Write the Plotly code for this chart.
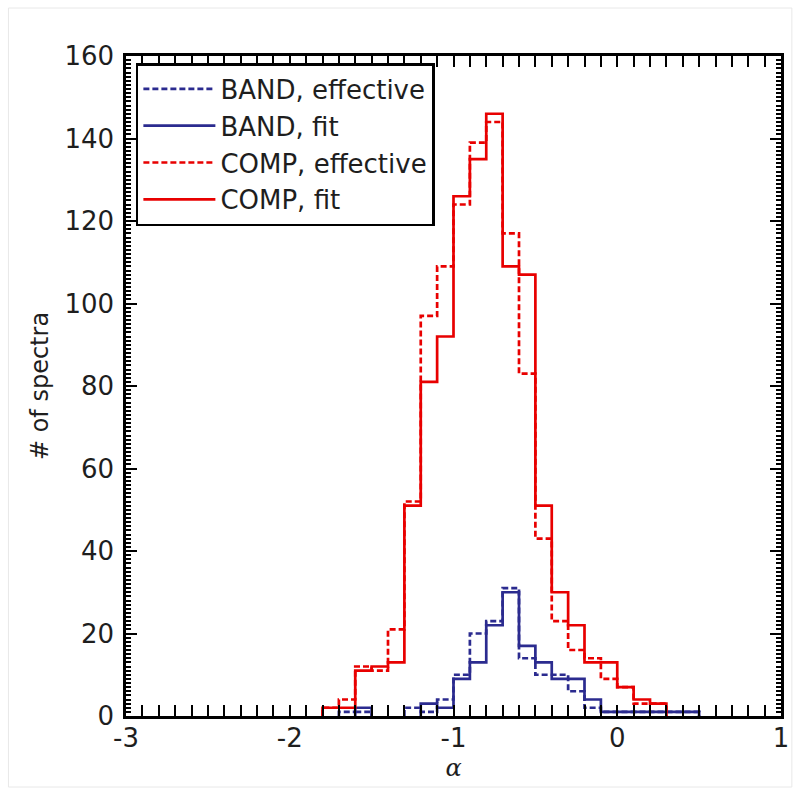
import plotly.graph_objects as go

# ---- data (counts per 0.1-wide alpha bin; bins given by left edge) ----
bin_width = 0.1

comp_bins = [-1.8, -1.7, -1.6, -1.5, -1.4, -1.3, -1.2, -1.1, -1.0, -0.9, -0.8,
             -0.7, -0.6, -0.5, -0.4, -0.3, -0.2, -0.1, 0.0, 0.1, 0.2]
comp_fit = [2, 2, 11, 12, 13, 51, 81, 92, 126, 135, 146,
            109, 107, 51, 30, 22, 13, 13, 7, 4, 3]
comp_eff = [2, 4, 12, 11, 21, 52, 97, 109, 124, 139, 144,
            117, 83, 43, 23, 16, 14, 9, 7, 3, 3]

band_bins = [-1.7, -1.6, -1.5, -1.4, -1.3, -1.2, -1.1, -1.0, -0.9, -0.8, -0.7,
             -0.6, -0.5, -0.4, -0.3, -0.2, -0.1, 0.0, 0.1, 0.2, 0.3, 0.4]
band_fit = [0, 2, 0, 0, 0, 3, 2, 9, 13, 22, 30,
            17, 13, 9, 9, 4, 1, 1, 1, 1, 1, 1]
band_eff = [1, 1, 0, 0, 2, 1, 4, 10, 20, 23, 31,
            14, 10, 10, 6, 2, 1, 1, 1, 1, 1, 1]

x_ticks = [-3, -2, -1, 0, 1]
y_ticks = [0, 20, 40, 60, 80, 100, 120, 140, 160]
y_minor_ticks = list(range(0, 161))

RED = "#e80000"
BLUE = "#2b2b8f"
FONT = "DejaVu Sans"
TXT = "#1e1e1e"


def step(bins, counts):
    """Step outline of a histogram; runs of empty bins leave a gap."""
    xs, ys = [], []
    open_run = False
    for b, c in zip(bins, counts):
        if c > 0:
            if not open_run:
                xs.append(b)
                ys.append(0)
                open_run = True
            xs.append(b)
            ys.append(c)
        elif open_run:
            xs += [b, None]
            ys += [0, None]
            open_run = False
    if open_run:
        xs.append(round(bins[-1] + bin_width, 3))
        ys.append(0)
    return xs, ys


series = [
    ("BAND, effective", band_bins, band_eff, BLUE, "6px,3px"),
    ("BAND, fit", band_bins, band_fit, BLUE, "solid"),
    ("COMP, effective", comp_bins, comp_eff, RED, "6px,3px"),
    ("COMP, fit", comp_bins, comp_fit, RED, "solid"),
]

fig = go.Figure()
for name, bins, counts, color, dash in series:
    xs, ys = step(bins, counts)
    fig.add_trace(go.Scatter(
        x=xs, y=ys, mode="lines", name=name, connectgaps=False,
        line=dict(color=color, width=2.7, dash=dash, shape="hv"),
    ))

# invisible traces carrying the extra tick-only axes (top / right / left minor)
fig.add_trace(go.Scatter(x=[-3], y=[0], xaxis="x2", yaxis="y2", mode="markers",
                         marker=dict(opacity=0), showlegend=False, hoverinfo="skip"))
fig.add_trace(go.Scatter(x=[-3], y=[0], xaxis="x", yaxis="y3", mode="markers",
                         marker=dict(opacity=0), showlegend=False, hoverinfo="skip"))

tick_common = dict(ticks="inside", tickcolor="black", tickwidth=2, ticklen=11,
                   showgrid=False, zeroline=False)
x_minor = dict(ticks="inside", dtick=0.1, tick0=-3, ticklen=6, tickwidth=2,
               tickcolor="black", showgrid=False)
y_ladder = dict(tickmode="array", tickvals=y_minor_ticks, showticklabels=False,
                ticks="inside", ticklen=5, tickwidth=1.5, tickcolor="black",
                showgrid=False, zeroline=False, showline=False, range=[0, 160])

fig.update_layout(
    xaxis=dict(
        range=[-3, 1], tickmode="array", tickvals=x_ticks,
        ticktext=[str(v) for v in x_ticks],
        showline=True, linecolor="black", linewidth=2.5, mirror="allticks",
        minor=x_minor, ticklabelstandoff=-3,
        tickfont=dict(family=FONT, size=26, color=TXT),
        title=dict(text="<i>α</i>", font=dict(family="DejaVu Serif", size=24, color=TXT), standoff=8),
        **tick_common,
    ),
    yaxis=dict(
        range=[0, 160], tickmode="array", tickvals=y_ticks,
        ticktext=[str(v) for v in y_ticks],
        showline=True, linecolor="black", linewidth=2.5, mirror="allticks",
        ticklabelstandoff=4,
        tickfont=dict(family=FONT, size=26, color=TXT),
        title=dict(text="# of spectra", font=dict(family=FONT, size=24, color=TXT), standoff=10),
        **tick_common,
    ),
    xaxis2=dict(
        overlaying="x", side="top", anchor="y", range=[-3, 1],
        tickmode="array", tickvals=x_ticks, showticklabels=False,
        showline=False, minor=x_minor, **tick_common,
    ),
    yaxis2=dict(overlaying="y", side="right", anchor="x", **y_ladder),
    yaxis3=dict(overlaying="y", side="left", anchor="x", **y_ladder),
)

fig.add_shape(type="rect", xref="paper", yref="paper",
              x0=(7 - 126) / 663, x1=(800 - 126) / 663,
              y0=(716 - 787) / 660, y1=(716 - 8) / 660,
              line=dict(color="#e8e8e8", width=1), layer="below")

fig.update_layout(
    width=801, height=805,
    margin=dict(l=126, r=12, t=56, b=89),
    paper_bgcolor="white", plot_bgcolor="white",
    showlegend=True,
    legend=dict(
        x=(136 - 126) / 663, y=(716 - 63) / 660, xanchor="left", yanchor="top",
        bordercolor="black", borderwidth=2.5, bgcolor="white",
        font=dict(family=FONT, size=26, color=TXT),
        itemwidth=72, tracegroupgap=0,
    ),
)

fig.write_html("out.html")
